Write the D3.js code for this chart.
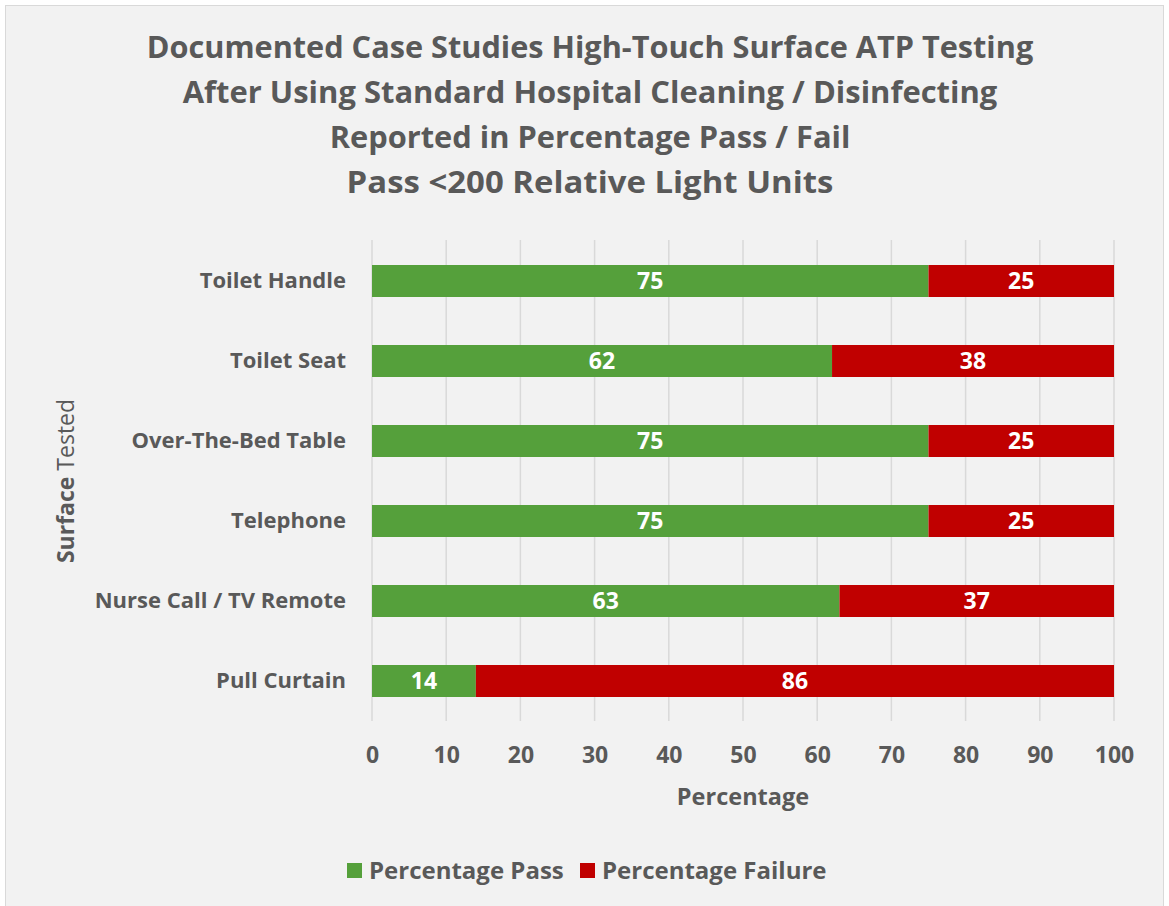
<!DOCTYPE html>
<html><head><meta charset="utf-8">
<script src="https://cdn.jsdelivr.net/npm/d3@7"></script>
<style>body{margin:0;background:#fff;}svg{display:block;font-family:"Open Sans",sans-serif;}</style>
</head><body>
<svg id="c" width="1169" height="906"></svg>
<script>
const categories = ["Toilet Handle","Toilet Seat","Over-The-Bed Table","Telephone","Nurse Call / TV Remote","Pull Curtain"];
const passValues = [75,62,75,75,63,14];
const failValues = [25,38,25,25,37,86];
const xTicks = [0,10,20,30,40,50,60,70,80,90,100];
const seriesNames = ["Percentage Pass","Percentage Failure"];
const titleLines = ["Documented Case Studies High-Touch Surface ATP Testing","After Using Standard Hospital Cleaning / Disinfecting","Reported in Percentage Pass / Fail","Pass <200 Relative Light Units"];
const colors = ["#55a03b","#c00000"];
const textColor = "#595959";

const svg = d3.select("#c");
svg.append("rect").attr("x",5.5).attr("y",5.5).attr("width",1158).attr("height",910).attr("fill","#f2f2f2").attr("stroke","#d9d9d9");

const x = d3.scaleLinear().domain([0,100]).range([372,1114]);
const y = d3.scaleBand().domain(categories).range([241,721]).paddingInner(0.6).paddingOuter(0.3);

// title
const tY = [50,95,140,185];
const widths = [887,815,521,487];
titleLines.forEach((t,i)=>{
  const el = svg.append("text").attr("x",590).attr("y",tY[i]).attr("text-anchor","middle").attr("dominant-baseline","middle")
    .attr("font-size",31).attr("font-weight","bold").attr("fill",textColor).text(t);
  const w = el.node().getComputedTextLength();
  const s = widths[i]/w;
  el.attr("transform",`translate(${590*(1-s)},0) scale(${s},1)`);
});

// gridlines
svg.append("g").selectAll("line").data(xTicks).join("line")
  .attr("x1",d=>x(d)).attr("x2",d=>x(d)).attr("y1",240).attr("y2",721)
  .attr("stroke","#d9d9d9").attr("stroke-width",1.5);

// axis
const xAxis = d3.axisBottom(x).tickValues(xTicks).tickSize(0).tickPadding(0);
const gx = svg.append("g").attr("transform","translate(0,755)").call(xAxis);
gx.select(".domain").remove();
gx.selectAll("text").attr("font-size",23).attr("font-weight","bold").attr("fill",textColor)
  .attr("font-family","Open Sans").attr("dy","0.35em");

const yAxis = d3.axisLeft(y).tickSize(0).tickPadding(0);
const gy = svg.append("g").attr("transform","translate(346,0)").call(yAxis);
gy.select(".domain").remove();
gy.selectAll("text").attr("font-size",22).attr("font-weight","bold").attr("fill",textColor).attr("font-family","Open Sans");

// bars
const rows = categories.map((c,i)=>({c, p:passValues[i], f:failValues[i]}));
const g = svg.append("g");
rows.forEach(r=>{
  const segs = [{v0:0,v1:r.p,col:colors[0]},{v0:r.p,v1:r.p+r.f,col:colors[1]}];
  segs.forEach(s=>{
    g.append("rect").attr("x",x(s.v0)).attr("width",x(s.v1)-x(s.v0)).attr("y",y(r.c)).attr("height",y.bandwidth()).attr("fill",s.col);
    g.append("text").attr("x",(x(s.v0)+x(s.v1))/2).attr("y",y(r.c)+y.bandwidth()/2).attr("dy","0.36em")
      .attr("text-anchor","middle").attr("font-size",23).attr("font-weight","bold").attr("fill","#fff").text(s.v1-s.v0);
  });
});

// axis titles
svg.append("text").attr("x",743).attr("y",797).attr("dy","0.35em").attr("text-anchor","middle").attr("font-size",23.5).attr("font-weight","bold").attr("fill",textColor).text("Percentage");
const yt = svg.append("text").attr("transform","translate(66,481) rotate(-90)").attr("dy","0.35em").attr("text-anchor","middle").attr("font-size",23).attr("fill",textColor);
yt.append("tspan").attr("font-weight","bold").text("Surface");
yt.append("tspan").text(" Tested");

// legend
const leg = [{x:347,tx:369},{x:580,tx:602}];
seriesNames.forEach((n,i)=>{
  svg.append("rect").attr("x",leg[i].x).attr("y",863).attr("width",15).attr("height",15).attr("fill",colors[i]);
  svg.append("text").attr("x",leg[i].tx).attr("y",871).attr("dy","0.35em").attr("font-size",24).attr("font-weight","bold").attr("fill",textColor).text(n);
});
</script>
</body></html>
